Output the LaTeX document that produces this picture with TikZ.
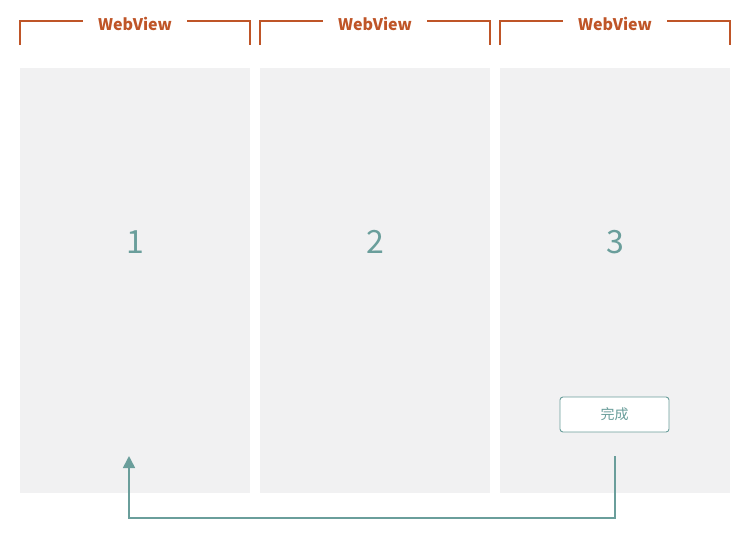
\documentclass[tikz,border=0pt]{standalone}
\usepackage{fontspec}
\setmainfont{Noto Sans CJK SC}
\newfontfamily\cjk{Noto Sans CJK SC}
\usetikzlibrary{arrows.meta}
\definecolor{panelgray}{HTML}{F1F1F2}
\definecolor{rust}{HTML}{BF5528}
\definecolor{teal2}{HTML}{6A9E9B}
\tikzset{
  x=1pt,y=-1pt,
  panel/.style={fill=panelgray,draw=none,minimum width=230pt,minimum height=425pt,inner sep=0pt,anchor=north west},
  lbl/.style={text=rust,font=\bfseries\fontsize{16}{18}\selectfont,inner sep=0pt},
  brk/.style={draw=rust,line width=1.6pt},
  num/.style={text=teal2,font=\fontsize{32}{36}\selectfont,inner sep=0pt},
  btn/.style={draw=teal2,fill=white,rounded corners=3pt,minimum width=109pt,minimum height=35pt,inner sep=0pt,line width=0.9pt,text=teal2,font=\cjk\fontsize{14}{16}\selectfont},
  link/.style={draw=teal2,line width=1.6pt},
}
\begin{document}
\begin{tikzpicture}
\useasboundingbox (0,0) rectangle (750,533);
\fill[white] (0,0) rectangle (750,533);
\foreach \i/\x in {1/20,2/260,3/500}{
  \node[panel] (p\i) at (\x,68) {};
  \node[num] (n\i) at (\x+115,242) {\i};
  \node[lbl] (w\i) at (\x+115,24) {WebView};
  \coordinate (bl\i) at (\x,45);
  \coordinate (br\i) at (\x+230,45);
  \draw[brk] (bl\i) -- (\x,21) -- (\x+63,21);
  \draw[brk] (\x+167,21) -- (\x+230,21) -- (br\i);
}
\node[btn] (done) at (614.5,414.5) {完成};
\coordinate (start) at (615,456);
\coordinate (tip) at (129,456);
\draw[link,-{Triangle[length=12pt,width=12pt]}] (start) -- (615,518) -- (129,518) -- (tip);
\end{tikzpicture}
\end{document}
